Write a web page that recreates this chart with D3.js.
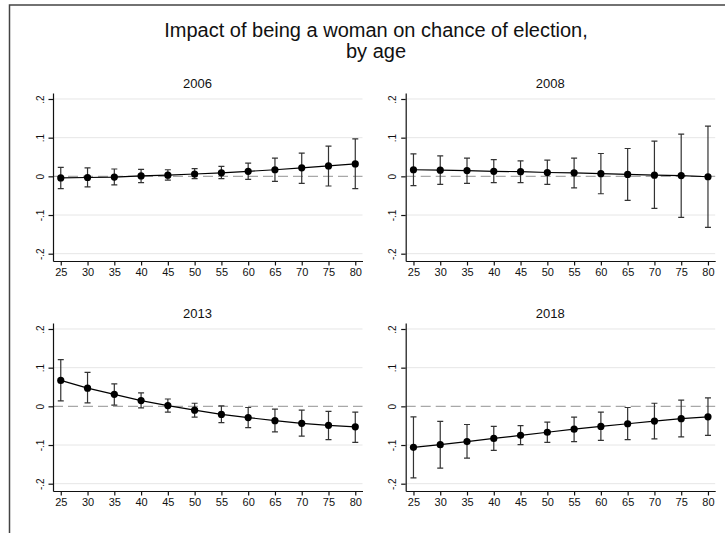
<!DOCTYPE html>
<html>
<head>
<meta charset="utf-8">
<script src="https://cdn.jsdelivr.net/npm/d3@7/dist/d3.min.js"></script>
<style>
  html, body { margin: 0; padding: 0; background: #fff; }
  svg { display: block; font-family: "Liberation Sans", Arial, sans-serif; }
</style>
</head>
<body>
<svg id="chart" width="725" height="533"></svg>
<script>
// Ages at which the effect is evaluated
const ages = [25, 30, 35, 40, 45, 50, 55, 60, 65, 70, 75, 80];

// Point estimates and 95% confidence bounds, one set per election year
const est2006 = [-0.004, -0.003, -0.002, 0.001, 0.003, 0.006, 0.009, 0.013, 0.017, 0.022, 0.027, 0.032];
const lo2006  = [-0.032, -0.027, -0.022, -0.016, -0.010, -0.006, -0.006, -0.008, -0.013, -0.018, -0.025, -0.032];
const hi2006  = [0.023, 0.022, 0.019, 0.018, 0.017, 0.020, 0.026, 0.034, 0.047, 0.060, 0.078, 0.097];

const est2008 = [0.017, 0.016, 0.015, 0.013, 0.012, 0.010, 0.009, 0.007, 0.005, 0.003, 0.002, -0.001];
const lo2008  = [-0.024, -0.021, -0.018, -0.016, -0.016, -0.021, -0.030, -0.045, -0.062, -0.083, -0.106, -0.132];
const hi2008  = [0.058, 0.053, 0.047, 0.043, 0.040, 0.042, 0.047, 0.059, 0.072, 0.091, 0.109, 0.130];

const est2013 = [0.067, 0.047, 0.031, 0.015, 0.002, -0.010, -0.021, -0.029, -0.037, -0.044, -0.049, -0.053];
const lo2013  = [0.014, 0.009, 0.003, -0.004, -0.015, -0.028, -0.042, -0.055, -0.066, -0.077, -0.086, -0.093];
const hi2013  = [0.121, 0.088, 0.058, 0.035, 0.019, 0.008, 0.001, -0.003, -0.007, -0.010, -0.013, -0.015];

const est2018 = [-0.106, -0.099, -0.091, -0.083, -0.075, -0.067, -0.059, -0.052, -0.045, -0.038, -0.032, -0.027];
const lo2018  = [-0.185, -0.160, -0.134, -0.114, -0.099, -0.093, -0.091, -0.088, -0.086, -0.084, -0.079, -0.075];
const hi2018  = [-0.027, -0.039, -0.047, -0.052, -0.050, -0.041, -0.028, -0.015, -0.003, 0.008, 0.016, 0.022];

const panelTitles = ["2006", "2008", "2013", "2018"];
const yTickValues = [-0.2, -0.1, 0, 0.1, 0.2];
const yTickLabels = ["-.2", "-.1", "0", ".1", ".2"];
const titleLines = ["Impact of being a woman on chance of election,", "by age"];

const panelData = [
  { est: est2006, lo: lo2006, hi: hi2006 },
  { est: est2008, lo: lo2008, hi: hi2008 },
  { est: est2013, lo: lo2013, hi: hi2013 },
  { est: est2018, lo: lo2018, hi: hi2018 }
];

const svg = d3.select("#chart");

// outer frame of the graph region
svg.append("rect")
  .attr("x", 9.5).attr("y", 5)
  .attr("width", 760).attr("height", 560)
  .attr("fill", "#fff")
  .attr("stroke", "#444").attr("stroke-width", 1.5);

// main title
svg.append("g").selectAll("text")
  .data(titleLines).join("text")
  .attr("x", 376)
  .attr("y", (d, i) => 37 + i * 21)
  .attr("text-anchor", "middle")
  .attr("font-size", 20)
  .attr("fill", "#111")
  .text(d => d);

// plot-region geometry for the 2x2 layout
const plotW = 309.5, plotH = 168;
const panelPos = [
  { left: 53, top: 93 },
  { left: 405.7, top: 93 },
  { left: 53, top: 323 },
  { left: 405.7, top: 323 }
];

const x = d3.scaleLinear().domain([23.55, 81.35]).range([0, plotW]);
const y = d3.scaleLinear().domain([-0.2189, 0.2155]).range([plotH, 0]);

panelData.forEach((pd, k) => {
  const pos = panelPos[k];
  const g = svg.append("g").attr("transform", `translate(${pos.left},${pos.top})`);

  // subgraph title
  g.append("text")
    .attr("x", 144.5).attr("y", -5.5)
    .attr("text-anchor", "middle")
    .attr("font-size", 13)
    .attr("fill", "#111")
    .text(panelTitles[k]);

  // horizontal grid lines
  g.append("g").selectAll("line")
    .data(yTickValues.filter(v => v !== 0)).join("line")
    .attr("x1", 0).attr("x2", plotW)
    .attr("y1", d => y(d)).attr("y2", d => y(d))
    .attr("stroke", "#e6e6e6").attr("stroke-width", 1);

  // zero reference line
  g.append("line")
    .attr("x1", 0).attr("x2", plotW)
    .attr("y1", y(0)).attr("y2", y(0))
    .attr("stroke", "#a8a8a8").attr("stroke-width", 1.3)
    .attr("stroke-dasharray", "10,5");

  // x axis
  const xAxis = g.append("g")
    .attr("transform", `translate(0,${plotH})`)
    .call(d3.axisBottom(x).tickValues(ages).tickSize(4.5).tickSizeOuter(0).tickPadding(3));
  xAxis.selectAll("text").attr("font-size", 11).attr("fill", "#111")
    .attr("font-family", "'Liberation Sans', Arial, sans-serif");

  // y axis with vertical labels
  const yAxis = g.append("g")
    .call(d3.axisLeft(y).tickValues(yTickValues)
      .tickFormat((d, i) => yTickLabels[i]).tickSize(4.5).tickSizeOuter(0));
  yAxis.selectAll("text")
    .attr("font-size", 10).attr("fill", "#111")
    .attr("font-family", "'Liberation Sans', Arial, sans-serif")
    .attr("x", null).attr("dy", null)
    .attr("text-anchor", "middle")
    .attr("transform", "translate(-9.5,0) rotate(-90)");

  [xAxis, yAxis].forEach(a => {
    a.select(".domain").attr("stroke", "#111").attr("stroke-width", 1.2);
    a.selectAll(".tick line").attr("stroke", "#111").attr("stroke-width", 1.2);
  });

  const rows = ages.map((a, i) => ({ age: a, est: pd.est[i], lo: pd.lo[i], hi: pd.hi[i] }));

  // confidence-interval caps
  const cap = 3;
  const bars = g.append("g").attr("stroke", "#333").attr("stroke-width", 1.2).attr("fill", "none");
  bars.selectAll("path")
    .data(rows).join("path")
    .attr("d", d => {
      const cx = x(d.age), yl = y(d.lo), yh = y(d.hi);
      return `M${cx - cap},${yh}H${cx + cap}M${cx},${yh}V${yl}M${cx - cap},${yl}H${cx + cap}`;
    });

  // connecting line
  g.append("path")
    .datum(rows)
    .attr("fill", "none")
    .attr("stroke", "#000").attr("stroke-width", 1.2)
    .attr("d", d3.line().x(d => x(d.age)).y(d => y(d.est)));

  // point markers
  g.append("g").selectAll("circle")
    .data(rows).join("circle")
    .attr("cx", d => x(d.age)).attr("cy", d => y(d.est))
    .attr("r", 3.6)
    .attr("fill", "#000");
});
</script>
</body>
</html>
